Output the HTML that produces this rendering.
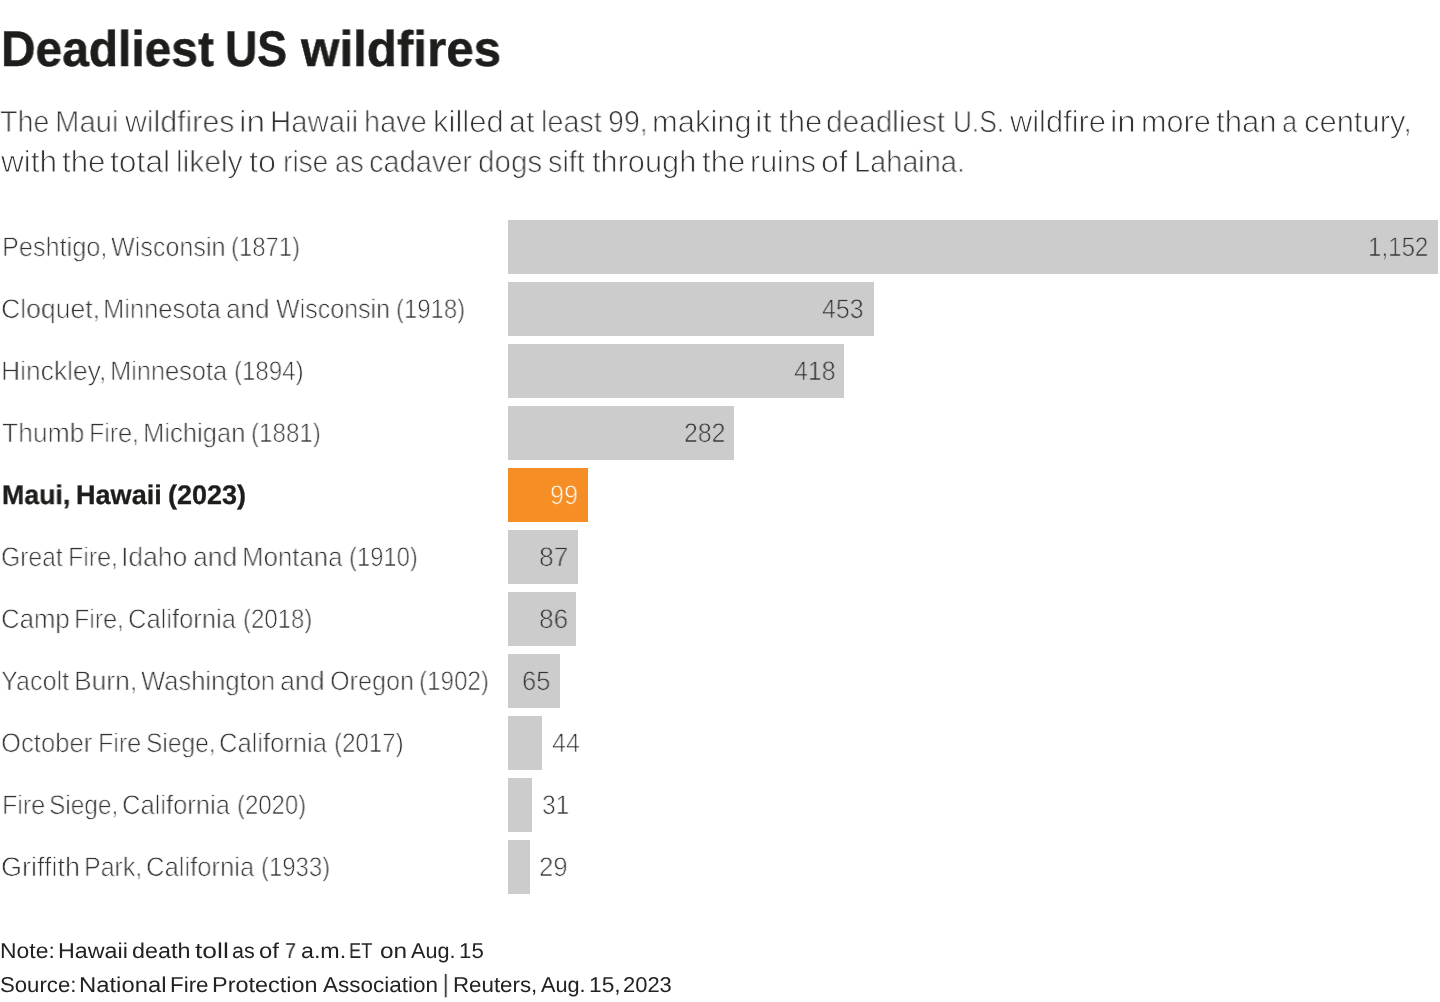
<!DOCTYPE html>
<html lang="en"><head><meta charset="utf-8"><title>Deadliest US wildfires</title>
<style>
html,body{margin:0;padding:0;background:#fff;}
body{width:1440px;height:1002px;position:relative;overflow:hidden;font-family:"Liberation Sans",sans-serif;}
.t{position:absolute;white-space:nowrap;line-height:1;transform-origin:0 0;margin:0;padding:0;will-change:transform;text-rendering:geometricPrecision;}
.bar{position:absolute;left:508px;height:54px;}
</style></head><body>
<div class="bar" style="top:220px;width:930.00px;background:#cccccc"></div>
<div class="bar" style="top:282px;width:366.00px;background:#cccccc"></div>
<div class="bar" style="top:344px;width:336.00px;background:#cccccc"></div>
<div class="bar" style="top:406px;width:226.00px;background:#cccccc"></div>
<div class="bar" style="top:468px;width:80.00px;background:#f68e26"></div>
<div class="bar" style="top:530px;width:70.00px;background:#cccccc"></div>
<div class="bar" style="top:592px;width:68.00px;background:#cccccc"></div>
<div class="bar" style="top:654px;width:52.00px;background:#cccccc"></div>
<div class="bar" style="top:716px;width:34.00px;background:#cccccc"></div>
<div class="bar" style="top:778px;width:24.00px;background:#cccccc"></div>
<div class="bar" style="top:840px;width:22.00px;background:#cccccc"></div>
<div class="t" style="left:1.03px;top:24.00px;font-size:50px;color:#1d1d1b;transform:scaleX(0.9576);font-weight:bold;-webkit-text-stroke:0.5px #1d1d1b;">Deadliest</div>
<div class="t" style="left:225.44px;top:24.00px;font-size:50px;color:#1d1d1b;transform:scaleX(0.8936);font-weight:bold;-webkit-text-stroke:0.5px #1d1d1b;">US</div>
<div class="t" style="left:300.54px;top:24.00px;font-size:50px;color:#1d1d1b;transform:scaleX(0.9864);font-weight:bold;-webkit-text-stroke:0.5px #1d1d1b;">wildfires</div>
<div class="t" style="left:0.28px;top:107.00px;font-size:30.5px;color:#333333;transform:scaleX(0.9400);-webkit-text-stroke:0.8px #ffffff;">The</div>
<div class="t" style="left:55.22px;top:107.00px;font-size:30.5px;color:#333333;transform:scaleX(0.9599);-webkit-text-stroke:0.8px #ffffff;">Maui</div>
<div class="t" style="left:124.62px;top:107.00px;font-size:30.5px;color:#333333;transform:scaleX(0.9927);-webkit-text-stroke:0.8px #ffffff;">wildfires</div>
<div class="t" style="left:238.62px;top:107.00px;font-size:30.5px;color:#333333;transform:scaleX(1.0963);-webkit-text-stroke:0.8px #ffffff;">in</div>
<div class="t" style="left:269.71px;top:107.00px;font-size:30.5px;color:#333333;transform:scaleX(0.9632);-webkit-text-stroke:0.8px #ffffff;">Hawaii</div>
<div class="t" style="left:363.91px;top:107.00px;font-size:30.5px;color:#333333;transform:scaleX(0.9486);-webkit-text-stroke:0.8px #ffffff;">have</div>
<div class="t" style="left:432.50px;top:107.00px;font-size:30.5px;color:#333333;transform:scaleX(1.0172);-webkit-text-stroke:0.8px #ffffff;">killed</div>
<div class="t" style="left:509.09px;top:107.00px;font-size:30.5px;color:#333333;transform:scaleX(0.9969);-webkit-text-stroke:0.8px #ffffff;">at</div>
<div class="t" style="left:540.68px;top:107.00px;font-size:30.5px;color:#333333;transform:scaleX(0.9426);-webkit-text-stroke:0.8px #ffffff;">least</div>
<div class="t" style="left:607.58px;top:107.00px;font-size:30.5px;color:#333333;transform:scaleX(0.9350);-webkit-text-stroke:0.8px #ffffff;">99,</div>
<div class="t" style="left:651.51px;top:107.00px;font-size:30.5px;color:#333333;transform:scaleX(1.0140);-webkit-text-stroke:0.8px #ffffff;">making</div>
<div class="t" style="left:754.83px;top:107.00px;font-size:30.5px;color:#333333;transform:scaleX(1.0941);-webkit-text-stroke:0.8px #ffffff;">it</div>
<div class="t" style="left:778.62px;top:107.00px;font-size:30.5px;color:#333333;transform:scaleX(1.0179);-webkit-text-stroke:0.8px #ffffff;">the</div>
<div class="t" style="left:826.35px;top:107.00px;font-size:30.5px;color:#333333;transform:scaleX(0.9768);-webkit-text-stroke:0.8px #ffffff;">deadliest</div>
<div class="t" style="left:952.62px;top:107.00px;font-size:30.5px;color:#333333;transform:scaleX(0.8623);-webkit-text-stroke:0.8px #ffffff;">U.S.</div>
<div class="t" style="left:1009.61px;top:107.00px;font-size:30.5px;color:#333333;transform:scaleX(1.0112);-webkit-text-stroke:0.8px #ffffff;">wildfire</div>
<div class="t" style="left:1109.85px;top:107.00px;font-size:30.5px;color:#333333;transform:scaleX(1.0857);-webkit-text-stroke:0.8px #ffffff;">in</div>
<div class="t" style="left:1141.34px;top:107.00px;font-size:30.5px;color:#333333;transform:scaleX(1.0038);-webkit-text-stroke:0.8px #ffffff;">more</div>
<div class="t" style="left:1216.12px;top:107.00px;font-size:30.5px;color:#333333;transform:scaleX(1.0215);-webkit-text-stroke:0.8px #ffffff;">than</div>
<div class="t" style="left:1282.28px;top:107.00px;font-size:30.5px;color:#333333;transform:scaleX(0.8892);-webkit-text-stroke:0.8px #ffffff;">a</div>
<div class="t" style="left:1303.77px;top:107.00px;font-size:30.5px;color:#333333;transform:scaleX(1.0141);-webkit-text-stroke:0.8px #ffffff;">century,</div>
<div class="t" style="left:0.90px;top:147.00px;font-size:30.5px;color:#333333;transform:scaleX(1.0342);-webkit-text-stroke:0.8px #ffffff;">with</div>
<div class="t" style="left:62.12px;top:147.00px;font-size:30.5px;color:#333333;transform:scaleX(1.0255);-webkit-text-stroke:0.8px #ffffff;">the</div>
<div class="t" style="left:110.40px;top:147.00px;font-size:30.5px;color:#333333;transform:scaleX(1.0433);-webkit-text-stroke:0.8px #ffffff;">total</div>
<div class="t" style="left:176.38px;top:147.00px;font-size:30.5px;color:#333333;transform:scaleX(0.9831);-webkit-text-stroke:0.8px #ffffff;">likely</div>
<div class="t" style="left:249.09px;top:147.00px;font-size:30.5px;color:#333333;transform:scaleX(1.0605);-webkit-text-stroke:0.8px #ffffff;">to</div>
<div class="t" style="left:282.76px;top:147.00px;font-size:30.5px;color:#333333;transform:scaleX(0.9187);-webkit-text-stroke:0.8px #ffffff;">rise</div>
<div class="t" style="left:334.78px;top:147.00px;font-size:30.5px;color:#333333;transform:scaleX(0.8873);-webkit-text-stroke:0.8px #ffffff;">as</div>
<div class="t" style="left:369.18px;top:147.00px;font-size:30.5px;color:#333333;transform:scaleX(0.9488);-webkit-text-stroke:0.8px #ffffff;">cadaver</div>
<div class="t" style="left:477.86px;top:147.00px;font-size:30.5px;color:#333333;transform:scaleX(0.9694);-webkit-text-stroke:0.8px #ffffff;">dogs</div>
<div class="t" style="left:548.08px;top:147.00px;font-size:30.5px;color:#333333;transform:scaleX(0.9444);-webkit-text-stroke:0.8px #ffffff;">sift</div>
<div class="t" style="left:591.63px;top:147.00px;font-size:30.5px;color:#333333;transform:scaleX(1.0078);-webkit-text-stroke:0.8px #ffffff;">through</div>
<div class="t" style="left:701.62px;top:147.00px;font-size:30.5px;color:#333333;transform:scaleX(1.0179);-webkit-text-stroke:0.8px #ffffff;">the</div>
<div class="t" style="left:749.57px;top:147.00px;font-size:30.5px;color:#333333;transform:scaleX(0.9940);-webkit-text-stroke:0.8px #ffffff;">ruins</div>
<div class="t" style="left:820.73px;top:147.00px;font-size:30.5px;color:#333333;transform:scaleX(1.0488);-webkit-text-stroke:0.8px #ffffff;">of</div>
<div class="t" style="left:853.55px;top:147.00px;font-size:30.5px;color:#333333;transform:scaleX(0.9482);-webkit-text-stroke:0.8px #ffffff;">Lahaina.</div>
<div class="t" style="left:1.60px;top:234.00px;font-size:27px;color:#333333;transform:scaleX(0.9364);-webkit-text-stroke:0.7px #ffffff;">Peshtigo,</div>
<div class="t" style="left:111.11px;top:234.00px;font-size:27px;color:#333333;transform:scaleX(0.9304);-webkit-text-stroke:0.7px #ffffff;">Wisconsin</div>
<div class="t" style="left:230.90px;top:234.00px;font-size:27px;color:#333333;transform:scaleX(0.8852);-webkit-text-stroke:0.7px #ffffff;">(1871)</div>
<div class="t" style="left:1368.04px;top:234.00px;font-size:27px;color:#333333;transform:scaleX(0.8936);-webkit-text-stroke:0.7px #cccccc;">1,152</div>
<div class="t" style="left:1.00px;top:296.00px;font-size:27px;color:#333333;transform:scaleX(0.9848);-webkit-text-stroke:0.7px #ffffff;">Cloquet,</div>
<div class="t" style="left:102.58px;top:296.00px;font-size:27px;color:#333333;transform:scaleX(0.9452);-webkit-text-stroke:0.7px #ffffff;">Minnesota</div>
<div class="t" style="left:226.25px;top:296.00px;font-size:27px;color:#333333;transform:scaleX(0.9645);-webkit-text-stroke:0.7px #ffffff;">and</div>
<div class="t" style="left:276.21px;top:296.00px;font-size:27px;color:#333333;transform:scaleX(0.9271);-webkit-text-stroke:0.7px #ffffff;">Wisconsin</div>
<div class="t" style="left:395.90px;top:296.00px;font-size:27px;color:#333333;transform:scaleX(0.8866);-webkit-text-stroke:0.7px #ffffff;">(1918)</div>
<div class="t" style="left:822.40px;top:296.00px;font-size:27px;color:#333333;transform:scaleX(0.9235);-webkit-text-stroke:0.7px #cccccc;">453</div>
<div class="t" style="left:1.49px;top:358.00px;font-size:27px;color:#333333;transform:scaleX(0.9789);-webkit-text-stroke:0.7px #ffffff;">Hinckley,</div>
<div class="t" style="left:109.89px;top:358.00px;font-size:27px;color:#333333;transform:scaleX(0.9403);-webkit-text-stroke:0.7px #ffffff;">Minnesota</div>
<div class="t" style="left:233.89px;top:358.00px;font-size:27px;color:#333333;transform:scaleX(0.8920);-webkit-text-stroke:0.7px #ffffff;">(1894)</div>
<div class="t" style="left:794.00px;top:358.00px;font-size:27px;color:#333333;transform:scaleX(0.9232);-webkit-text-stroke:0.7px #cccccc;">418</div>
<div class="t" style="left:1.76px;top:420.00px;font-size:27px;color:#333333;transform:scaleX(0.9808);-webkit-text-stroke:0.7px #ffffff;">Thumb</div>
<div class="t" style="left:89.33px;top:420.00px;font-size:27px;color:#333333;transform:scaleX(0.9248);-webkit-text-stroke:0.7px #ffffff;">Fire,</div>
<div class="t" style="left:142.87px;top:420.00px;font-size:27px;color:#333333;transform:scaleX(0.9477);-webkit-text-stroke:0.7px #ffffff;">Michigan</div>
<div class="t" style="left:250.88px;top:420.00px;font-size:27px;color:#333333;transform:scaleX(0.8960);-webkit-text-stroke:0.7px #ffffff;">(1881)</div>
<div class="t" style="left:684.03px;top:420.00px;font-size:27px;color:#333333;transform:scaleX(0.9194);-webkit-text-stroke:0.7px #cccccc;">282</div>
<div class="t" style="left:2.36px;top:482.00px;font-size:27px;color:#1d1d1b;transform:scaleX(0.9896);font-weight:bold;-webkit-text-stroke:0.3px #1d1d1b;">Maui,</div>
<div class="t" style="left:76.04px;top:482.00px;font-size:27px;color:#1d1d1b;transform:scaleX(1.0020);font-weight:bold;-webkit-text-stroke:0.3px #1d1d1b;">Hawaii</div>
<div class="t" style="left:167.50px;top:482.00px;font-size:27px;color:#1d1d1b;transform:scaleX(0.9980);font-weight:bold;-webkit-text-stroke:0.3px #1d1d1b;">(2023)</div>
<div class="t" style="left:549.58px;top:482.00px;font-size:27px;color:#ffffff;transform:scaleX(0.9344);-webkit-text-stroke:0.7px #f68e26;">99</div>
<div class="t" style="left:1.13px;top:544.00px;font-size:27px;color:#333333;transform:scaleX(0.9136);-webkit-text-stroke:0.7px #ffffff;">Great</div>
<div class="t" style="left:68.33px;top:544.00px;font-size:27px;color:#333333;transform:scaleX(0.9248);-webkit-text-stroke:0.7px #ffffff;">Fire,</div>
<div class="t" style="left:121.21px;top:544.00px;font-size:27px;color:#333333;transform:scaleX(0.9805);-webkit-text-stroke:0.7px #ffffff;">Idaho</div>
<div class="t" style="left:192.82px;top:544.00px;font-size:27px;color:#333333;transform:scaleX(0.9814);-webkit-text-stroke:0.7px #ffffff;">and</div>
<div class="t" style="left:241.55px;top:544.00px;font-size:27px;color:#333333;transform:scaleX(0.9563);-webkit-text-stroke:0.7px #ffffff;">Montana</div>
<div class="t" style="left:348.91px;top:544.00px;font-size:27px;color:#333333;transform:scaleX(0.8825);-webkit-text-stroke:0.7px #ffffff;">(1910)</div>
<div class="t" style="left:539.31px;top:544.00px;font-size:27px;color:#333333;transform:scaleX(0.9783);-webkit-text-stroke:0.7px #cccccc;">87</div>
<div class="t" style="left:1.05px;top:606.00px;font-size:27px;color:#333333;transform:scaleX(0.9535);-webkit-text-stroke:0.7px #ffffff;">Camp</div>
<div class="t" style="left:74.33px;top:606.00px;font-size:27px;color:#333333;transform:scaleX(0.9248);-webkit-text-stroke:0.7px #ffffff;">Fire,</div>
<div class="t" style="left:128.37px;top:606.00px;font-size:27px;color:#333333;transform:scaleX(0.9464);-webkit-text-stroke:0.7px #ffffff;">California</div>
<div class="t" style="left:243.20px;top:606.00px;font-size:27px;color:#333333;transform:scaleX(0.8879);-webkit-text-stroke:0.7px #ffffff;">(2018)</div>
<div class="t" style="left:538.52px;top:606.00px;font-size:27px;color:#333333;transform:scaleX(0.9724);-webkit-text-stroke:0.7px #cccccc;">86</div>
<div class="t" style="left:0.71px;top:668.00px;font-size:27px;color:#333333;transform:scaleX(0.9335);-webkit-text-stroke:0.7px #ffffff;">Yacolt</div>
<div class="t" style="left:73.89px;top:668.00px;font-size:27px;color:#333333;transform:scaleX(0.9794);-webkit-text-stroke:0.7px #ffffff;">Burn,</div>
<div class="t" style="left:141.20px;top:668.00px;font-size:27px;color:#333333;transform:scaleX(0.9471);-webkit-text-stroke:0.7px #ffffff;">Washington</div>
<div class="t" style="left:280.41px;top:668.00px;font-size:27px;color:#333333;transform:scaleX(0.9887);-webkit-text-stroke:0.7px #ffffff;">and</div>
<div class="t" style="left:330.07px;top:668.00px;font-size:27px;color:#333333;transform:scaleX(0.9335);-webkit-text-stroke:0.7px #ffffff;">Oregon</div>
<div class="t" style="left:418.98px;top:668.00px;font-size:27px;color:#333333;transform:scaleX(0.8974);-webkit-text-stroke:0.7px #ffffff;">(1902)</div>
<div class="t" style="left:521.76px;top:668.00px;font-size:27px;color:#333333;transform:scaleX(0.9479);-webkit-text-stroke:0.7px #cccccc;">65</div>
<div class="t" style="left:1.15px;top:730.00px;font-size:27px;color:#333333;transform:scaleX(0.9507);-webkit-text-stroke:0.7px #ffffff;">October</div>
<div class="t" style="left:98.32px;top:730.00px;font-size:27px;color:#333333;transform:scaleX(0.9269);-webkit-text-stroke:0.7px #ffffff;">Fire</div>
<div class="t" style="left:146.21px;top:730.00px;font-size:27px;color:#333333;transform:scaleX(0.9093);-webkit-text-stroke:0.7px #ffffff;">Siege,</div>
<div class="t" style="left:219.07px;top:730.00px;font-size:27px;color:#333333;transform:scaleX(0.9464);-webkit-text-stroke:0.7px #ffffff;">California</div>
<div class="t" style="left:333.89px;top:730.00px;font-size:27px;color:#333333;transform:scaleX(0.8920);-webkit-text-stroke:0.7px #ffffff;">(2017)</div>
<div class="t" style="left:552.00px;top:730.00px;font-size:27px;color:#333333;transform:scaleX(0.9283);-webkit-text-stroke:0.7px #ffffff;">44</div>
<div class="t" style="left:1.62px;top:792.00px;font-size:27px;color:#333333;transform:scaleX(0.9269);-webkit-text-stroke:0.7px #ffffff;">Fire</div>
<div class="t" style="left:49.21px;top:792.00px;font-size:27px;color:#333333;transform:scaleX(0.9052);-webkit-text-stroke:0.7px #ffffff;">Siege,</div>
<div class="t" style="left:122.37px;top:792.00px;font-size:27px;color:#333333;transform:scaleX(0.9464);-webkit-text-stroke:0.7px #ffffff;">California</div>
<div class="t" style="left:236.90px;top:792.00px;font-size:27px;color:#333333;transform:scaleX(0.8866);-webkit-text-stroke:0.7px #ffffff;">(2020)</div>
<div class="t" style="left:541.61px;top:792.00px;font-size:27px;color:#333333;transform:scaleX(0.9133);-webkit-text-stroke:0.7px #ffffff;">31</div>
<div class="t" style="left:0.99px;top:854.00px;font-size:27px;color:#333333;transform:scaleX(0.9976);-webkit-text-stroke:0.7px #ffffff;">Griffith</div>
<div class="t" style="left:84.33px;top:854.00px;font-size:27px;color:#333333;transform:scaleX(0.9244);-webkit-text-stroke:0.7px #ffffff;">Park,</div>
<div class="t" style="left:146.06px;top:854.00px;font-size:27px;color:#333333;transform:scaleX(0.9491);-webkit-text-stroke:0.7px #ffffff;">California</div>
<div class="t" style="left:260.90px;top:854.00px;font-size:27px;color:#333333;transform:scaleX(0.8866);-webkit-text-stroke:0.7px #ffffff;">(1933)</div>
<div class="t" style="left:539.27px;top:854.00px;font-size:27px;color:#333333;transform:scaleX(0.9525);-webkit-text-stroke:0.7px #ffffff;">29</div>
<div class="t" style="left:-0.39px;top:941.00px;font-size:21.5px;color:#222222;transform:scaleX(1.0656);">Note:</div>
<div class="t" style="left:58.08px;top:941.00px;font-size:21.5px;color:#222222;transform:scaleX(1.0831);">Hawaii</div>
<div class="t" style="left:131.52px;top:941.00px;font-size:21.5px;color:#222222;transform:scaleX(1.0849);">death</div>
<div class="t" style="left:194.80px;top:941.00px;font-size:21.5px;color:#222222;transform:scaleX(1.2297);">toll</div>
<div class="t" style="left:232.39px;top:941.00px;font-size:21.5px;color:#222222;transform:scaleX(0.9868);">as</div>
<div class="t" style="left:259.09px;top:941.00px;font-size:21.5px;color:#222222;transform:scaleX(1.1100);">of</div>
<div class="t" style="left:284.58px;top:941.00px;font-size:21.5px;color:#222222;transform:scaleX(0.9214);">7</div>
<div class="t" style="left:300.91px;top:941.00px;font-size:21.5px;color:#222222;transform:scaleX(1.0797);">a.m.</div>
<div class="t" style="left:349.40px;top:941.00px;font-size:21.5px;color:#222222;transform:scaleX(0.8499);">ET</div>
<div class="t" style="left:379.57px;top:941.00px;font-size:21.5px;color:#222222;transform:scaleX(1.1347);">on</div>
<div class="t" style="left:411.10px;top:941.00px;font-size:21.5px;color:#222222;transform:scaleX(1.0035);">Aug.</div>
<div class="t" style="left:459.10px;top:941.00px;font-size:21.5px;color:#222222;transform:scaleX(1.0356);">15</div>
<div class="t" style="left:-0.27px;top:975.00px;font-size:21.5px;color:#222222;transform:scaleX(1.0310);">Source:</div>
<div class="t" style="left:78.94px;top:975.00px;font-size:21.5px;color:#222222;transform:scaleX(1.1085);">National</div>
<div class="t" style="left:170.26px;top:975.00px;font-size:21.5px;color:#222222;transform:scaleX(1.0409);">Fire</div>
<div class="t" style="left:212.47px;top:975.00px;font-size:21.5px;color:#222222;transform:scaleX(1.0901);">Protection</div>
<div class="t" style="left:323.20px;top:975.00px;font-size:21.5px;color:#222222;transform:scaleX(1.0455);">Association</div>
<div class="t" style="left:452.86px;top:975.00px;font-size:21.5px;color:#222222;transform:scaleX(1.0376);">Reuters,</div>
<div class="t" style="left:541.20px;top:975.00px;font-size:21.5px;color:#222222;transform:scaleX(1.0083);">Aug.</div>
<div class="t" style="left:588.66px;top:975.00px;font-size:21.5px;color:#222222;transform:scaleX(1.0593);">15,</div>
<div class="t" style="left:623.29px;top:975.00px;font-size:21.5px;color:#222222;transform:scaleX(1.0199);">2023</div>
<div class="t" style="left:443.22px;top:972.00px;font-size:25px;color:#222222;transform:scaleX(0.8434);">|</div>
</body></html>
